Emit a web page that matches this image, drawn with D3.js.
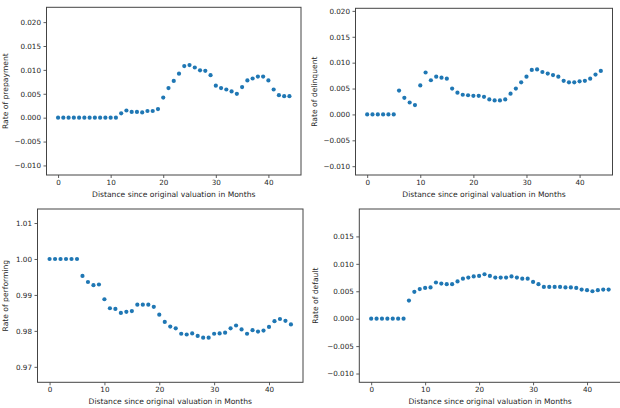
<!DOCTYPE html>
<html>
<head>
<meta charset="utf-8">
<script src="https://cdn.jsdelivr.net/npm/d3@7"></script>
<style>
  body { margin: 0; background: #fff; }
  svg { display: block; }
  text { font-family: "DejaVu Sans", sans-serif; fill: #262626; }
</style>
</head>
<body>
<div id="graph-container"></div>
<script>
const WIDTH = 620, HEIGHT = 408;

// distance since original valuation (months)
const months = [0, 1, 2, 3, 4, 5, 6, 7, 8, 9, 10, 11, 12, 13, 14, 15, 16, 17, 18, 19, 20, 21,
    22, 23, 24, 25, 26, 27, 28, 29, 30, 31, 32, 33, 34, 35, 36, 37, 38, 39, 40, 41, 42, 43, 44];

const prepayment = [0, 0, 0, 0, 0, 0, 0, 0, 0, 0, 0, 0,
    0.0009, 0.0015, 0.0012, 0.0012, 0.0011, 0.0014, 0.0014, 0.0018, 0.0042, 0.0062, 0.0077,
    0.0092, 0.0108, 0.0110, 0.0105, 0.0099, 0.0098, 0.0089, 0.0067, 0.0062, 0.0059, 0.0055,
    0.0050, 0.0064, 0.0078, 0.0082, 0.0086, 0.0086, 0.0078, 0.0059, 0.0047, 0.0045, 0.0045];

const delinquent = [0, 0, 0, 0, 0, 0,
    0.0046, 0.0032, 0.0023, 0.0018, 0.0056, 0.0081, 0.0066, 0.0073, 0.0071, 0.0069, 0.0050,
    0.0042, 0.0038, 0.0037, 0.0036, 0.0036, 0.0034, 0.0029, 0.0027, 0.0027, 0.0029, 0.0040,
    0.0050, 0.0062, 0.0073, 0.0086, 0.0087, 0.0082, 0.0079, 0.0076, 0.0073, 0.0065, 0.0062,
    0.0062, 0.0064, 0.0065, 0.0069, 0.0077, 0.0084];

const performing = [1.0, 1.0, 1.0, 1.0, 1.0, 1.0,
    0.9953, 0.9936, 0.9927, 0.9929, 0.9888, 0.9863, 0.9861, 0.9850, 0.9853, 0.9855, 0.9873,
    0.9873, 0.9873, 0.9867, 0.9845, 0.9825, 0.9812, 0.9807, 0.9792, 0.9790, 0.9793, 0.9786,
    0.9781, 0.9781, 0.9792, 0.9793, 0.9795, 0.9807, 0.9815, 0.9804, 0.9792, 0.9802, 0.9798,
    0.9801, 0.9811, 0.9827, 0.9833, 0.9828, 0.9818];

const defaultRate = [0, 0, 0, 0, 0, 0, 0,
    0.0033, 0.0049, 0.0054, 0.0056, 0.0057, 0.0066, 0.0064, 0.0063, 0.0063, 0.0068, 0.0073,
    0.0075, 0.0077, 0.0078, 0.0081, 0.0078, 0.0075, 0.0075, 0.0075, 0.0077, 0.0075, 0.0073,
    0.0073, 0.0067, 0.0063, 0.0058, 0.0058, 0.0058, 0.0058, 0.0057, 0.0057, 0.0056, 0.0053,
    0.0052, 0.0050, 0.0052, 0.0053, 0.0053];

const xTicks = [0, 10, 20, 30, 40];
const rateTicks = [-0.010, -0.005, 0.000, 0.005, 0.010, 0.015, 0.020];
const defaultTicks = [-0.010, -0.005, 0.000, 0.005, 0.010, 0.015];
const performingTicks = [0.97, 0.98, 0.99, 1.00, 1.01];

const xLabel = 'Distance since original valuation in Months';

const panels = [
    { values: prepayment, yLabel: 'Rate of prepayment', ticks: rateTicks, fmt: '.3f',
      box: { x0: 46.5, x1: 301, y0: 7.3, y1: 175 }, yDomain: [-0.0120, 0.0231], labelX: 5 },
    { values: delinquent, yLabel: 'Rate of delinquent', ticks: rateTicks, fmt: '.3f',
      box: { x0: 355.5, x1: 612.5, y0: 8.3, y1: 175 }, yDomain: [-0.0117, 0.0205], labelX: 314 },
    { values: performing, yLabel: 'Rate of performing', ticks: performingTicks, fmt: '.2f',
      box: { x0: 37.5, x1: 303, y0: 209, y1: 382.3 }, yDomain: [0.9657, 1.0139], labelX: 5.5 },
    { values: defaultRate, yLabel: 'Rate of default', ticks: defaultTicks, fmt: '.3f',
      box: { x0: 359.3, x1: 620.5, y0: 209, y1: 382.3 }, yDomain: [-0.0116, 0.0200], labelX: 315 },
];

const svg = d3.select('#graph-container').append('svg')
    .attr('width', WIDTH)
    .attr('height', HEIGHT);

const drawPanel = (p) => {
    const b = p.box;
    const xScale = d3.scaleLinear().domain([-2.2, 46.2]).range([b.x0, b.x1]);
    const yScale = d3.scaleLinear().domain(p.yDomain).range([b.y1, b.y0]);

    const g = svg.append('g');

    const xAxis = d3.axisBottom(xScale)
        .tickValues(xTicks)
        .tickSize(3)
        .tickPadding(2)
        .tickFormat(d3.format('d'));
    const yAxis = d3.axisLeft(yScale)
        .tickValues(p.ticks)
        .tickSize(3)
        .tickPadding(2.5)
        .tickFormat(d3.format(p.fmt));

    const xa = g.append('g')
        .attr('transform', `translate(0, ${b.y1})`)
        .call(xAxis);
    const ya = g.append('g')
        .attr('transform', `translate(${b.x0}, 0)`)
        .call(yAxis);

    [xa, ya].forEach((a) => {
        a.select('.domain').remove();
        a.selectAll('.tick line').attr('stroke', '#333').attr('stroke-width', 0.8);
        a.selectAll('.tick text')
            .style('font-family', '"DejaVu Sans", sans-serif')
            .style('font-size', '7.2px')
            .attr('fill', '#262626');
    });

    // frame
    g.append('rect')
        .attr('x', b.x0)
        .attr('y', b.y0)
        .attr('width', b.x1 - b.x0)
        .attr('height', b.y1 - b.y0)
        .attr('fill', 'none')
        .attr('stroke', '#444')
        .attr('stroke-width', 1);

    g.append('g')
        .selectAll('circle')
        .data(months)
        .join('circle')
        .attr('cx', (d) => xScale(d))
        .attr('cy', (d, i) => yScale(p.values[i]))
        .attr('r', 2.1)
        .attr('fill', '#1f77b4');

    g.append('text')
        .attr('x', (b.x0 + Math.min(b.x1, 619)) / 2 + (b.x1 > 615 ? 1 : 0))
        .attr('y', b.y1 + 19.5)
        .attr('dy', '0.35em')
        .style('text-anchor', 'middle')
        .style('font-size', '7.6px')
        .text(xLabel);

    g.append('text')
        .attr('transform', `translate(${p.labelX}, ${(b.y0 + b.y1) / 2}) rotate(-90)`)
        .attr('dy', '0.35em')
        .style('text-anchor', 'middle')
        .style('font-size', '7.6px')
        .text(p.yLabel);
};

panels.forEach(drawPanel);
</script>
</body>
</html>
